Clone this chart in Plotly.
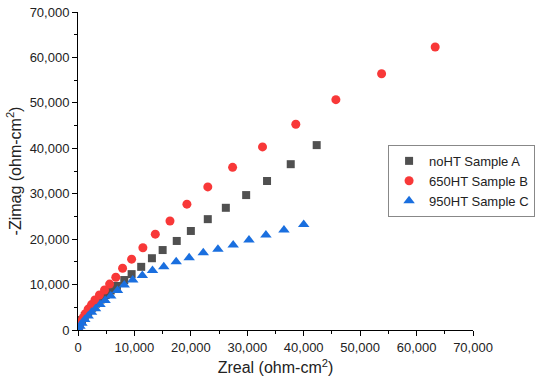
import plotly.graph_objects as go

# noHT Sample A
a_x = [100, 350, 700, 1200, 1800, 2500, 3200, 4000, 4900, 5800, 6900, 8200, 9500, 11200, 13100, 15000, 17500, 20000, 23000, 26200, 29800, 33500, 37700, 42300]
a_y = [500, 1300, 2200, 3100, 4000, 4900, 5800, 6700, 7700, 8700, 9700, 11000, 12300, 13900, 15800, 17600, 19600, 21800, 24400, 26900, 29700, 32800, 36500, 40700]
# 650HT Sample B
b_x = [100, 250, 500, 900, 1300, 1800, 2400, 3000, 3800, 4700, 5600, 6700, 7900, 9500, 11500, 13700, 16300, 19300, 23000, 27400, 32700, 38600, 45700, 53800, 63300]
b_y = [400, 1000, 1800, 2700, 3600, 4600, 5600, 6600, 7700, 8800, 10100, 11600, 13600, 15600, 18100, 21100, 24000, 27700, 31500, 35800, 40300, 45300, 50700, 56400, 62300]
# 950HT Sample C
c_x = [100, 350, 700, 1200, 1800, 2400, 3100, 3900, 4800, 5800, 7000, 8200, 9700, 11400, 13200, 15200, 17400, 19700, 22200, 24800, 27500, 30300, 33300, 36500, 40000]
c_y = [300, 800, 1500, 2300, 3100, 3900, 4700, 5600, 6500, 7500, 8700, 9900, 11000, 12000, 13100, 13900, 15000, 15900, 17000, 17800, 18700, 19800, 20900, 22000, 23200]

names = ["noHT Sample A", "650HT Sample B", "950HT Sample C"]

fig = go.Figure()
fig.add_trace(go.Scatter(x=a_x, y=a_y, mode="markers", name=names[0],
                         marker=dict(symbol="square", size=8, color="#505050")))
fig.add_trace(go.Scatter(x=b_x, y=b_y, mode="markers", name=names[1],
                         marker=dict(symbol="circle", size=9, color="#F83838")))
fig.add_trace(go.Scatter(x=c_x, y=c_y, mode="markers", name=names[2],
                         marker=dict(symbol="triangle-up", size=10, color="#1A6FDF")))

axis_common = dict(
    showline=True, linecolor="black", linewidth=1,
    ticks="outside", ticklen=5, tickcolor="black", tickwidth=1,
    minor=dict(ticks="outside", ticklen=3, tickcolor="black", dtick=5000),
    showgrid=False, zeroline=False, tickformat=",",
    tickfont=dict(family="Liberation Sans, Arial", size=13, color="#222"),
    dtick=10000, range=[0, 70000], automargin=False,
    ticklabeloverflow="allow",
)

fig.update_layout(
    width=550, height=391, autosize=False,
    margin=dict(l=78, r=77, t=12, b=61),
    plot_bgcolor="white", paper_bgcolor="white",
    font=dict(family="Liberation Sans, Arial", color="#222"),
    xaxis=dict(**axis_common,
               title=dict(text="Zreal (ohm-cm<sup>2</sup>)", font=dict(size=16), standoff=8)),
    yaxis=dict(**axis_common,
               title=dict(text="-Zimag (ohm-cm<sup>2</sup>)", font=dict(size=16), standoff=4)),
    legend=dict(x=0.785, y=0.582, xanchor="left", yanchor="top",
                bordercolor="#888", borderwidth=1, bgcolor="white",
                font=dict(size=13), tracegroupgap=0),
    showlegend=True,
)

fig.write_html(
    "out.html",
    config={"responsive": False, "displayModeBar": False},
    post_script="document.body.style.margin='0';document.documentElement.style.overflow='hidden';document.body.style.overflow='hidden';",
)
